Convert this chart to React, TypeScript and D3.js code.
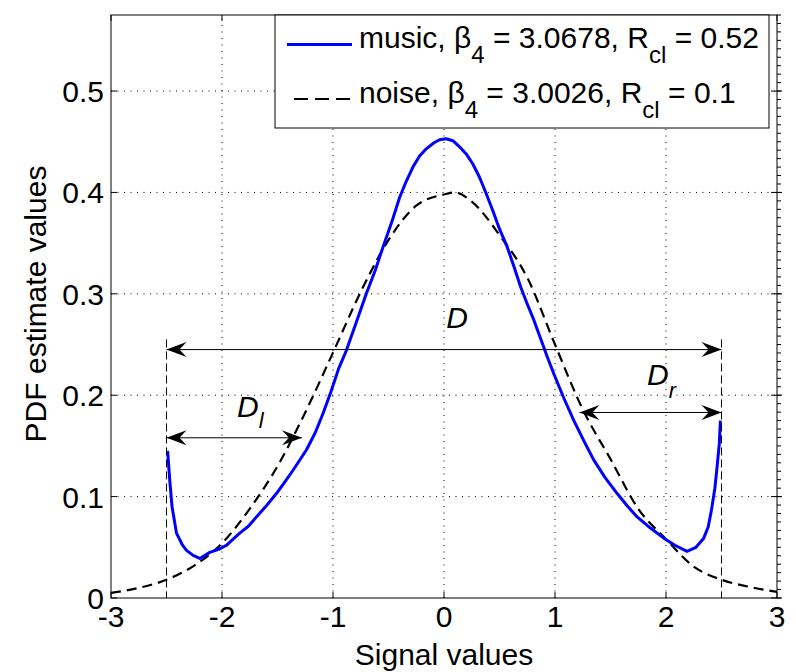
import React from "react";
import * as d3 from "d3";

// Axis ticks
const xTicks = [-3, -2, -1, 0, 1, 2, 3];
const xTickLabels = ["-3", "-2", "-1", "0", "1", "2", "3"];
const yTicks = [0, 0.1, 0.2, 0.3, 0.4, 0.5];
const yTickLabels = ["0", "0.1", "0.2", "0.3", "0.4", "0.5"];

// PDF estimate of the music signal
const musicX = [
  -2.49, -2.47, -2.45, -2.41, -2.36, -2.32, -2.26, -2.2, -2.11, -2.03, -1.96, -1.9, -1.84, -1.76,
  -1.69, -1.6, -1.51, -1.43, -1.36, -1.24, -1.16, -1.09, -1.02, -0.95, -0.88, -0.79, -0.7, -0.62,
  -0.55, -0.47, -0.4, -0.34, -0.28, -0.22, -0.16, -0.09, -0.04, 0.02, 0.08, 0.14, 0.2, 0.26, 0.32,
  0.38, 0.44, 0.5, 0.57, 0.63, 0.69, 0.75, 0.81, 0.87, 0.93, 0.99, 1.08, 1.17, 1.26, 1.35, 1.45,
  1.56, 1.65, 1.74, 1.86, 1.98, 2.08, 2.19, 2.27, 2.34, 2.38, 2.41, 2.44, 2.46, 2.48, 2.49,
];
const musicY = [
  0.145, 0.115, 0.09, 0.064, 0.053, 0.047, 0.042, 0.039, 0.045, 0.048, 0.052, 0.058, 0.064, 0.071,
  0.08, 0.091, 0.103, 0.115, 0.126, 0.146, 0.163, 0.182, 0.203, 0.226, 0.244, 0.272, 0.3, 0.323,
  0.346, 0.371, 0.395, 0.411, 0.425, 0.436, 0.443, 0.449, 0.452, 0.453, 0.451, 0.445, 0.438, 0.428,
  0.415, 0.399, 0.382, 0.364, 0.346, 0.327, 0.307, 0.29, 0.274, 0.256, 0.238, 0.221, 0.197, 0.175,
  0.155, 0.136, 0.119, 0.103, 0.091, 0.08, 0.069, 0.059, 0.052, 0.046, 0.05, 0.059, 0.07, 0.087,
  0.108, 0.129, 0.152, 0.175,
];

// PDF estimate of the noise signal
const noiseX = [
  -3, -2.75, -2.5, -2.25, -2, -1.75, -1.5, -1.25, -1, -0.75, -0.5, -0.25, 0, 0.1, 0.25, 0.5, 0.75,
  1, 1.25, 1.5, 1.75, 2, 2.25, 2.5, 2.75, 3,
];
const noiseY = [
  0.005, 0.01, 0.018, 0.032, 0.054, 0.088, 0.13, 0.183, 0.242, 0.302, 0.353, 0.387, 0.398, 0.4,
  0.391, 0.358, 0.316, 0.25, 0.186, 0.137, 0.088, 0.058, 0.031, 0.018, 0.011, 0.006,
];

// Clipping bounds and distance annotations: [from, to, level]
const clipBounds = [-2.5, 2.5];
const boundTop = 0.255;
const arrowD = [-2.5, 2.5, 0.245];
const arrowDl = [-2.5, -1.28, 0.158];
const arrowDr = [1.22, 2.5, 0.183];

const legendRows = [
  { name: "music", beta: "3.0678", rcl: "0.52" },
  { name: "noise", beta: "3.0026", rcl: "0.1" },
];

const FONT = "'Liberation Sans', Arial, Helvetica, sans-serif";

export default function App() {
  const x = d3.scaleLinear().domain([-3, 3]).range([111, 777]);
  const y = d3.scaleLinear().domain([0, 0.575]).range([598, 15]);
  const [x0, x1] = x.range();
  const [y0, y1] = y.range();

  const line = d3
    .line<[number, number]>()
    .x((d) => x(d[0]))
    .y((d) => y(d[1]));

  const musicPts = musicX.map((v, i) => [v, musicY[i]] as [number, number]);
  const noisePts = noiseX.map((v, i) => [v, noiseY[i]] as [number, number]);
  const noiseLine = d3
    .line<[number, number]>()
    .x((d) => x(d[0]))
    .y((d) => y(d[1]))
    .curve(d3.curveMonotoneX);

  const minorStep = 0.1 / 12;
  const minorTicks = d3.range(0, 0.575 + 1e-9, minorStep);

  const arrow = (a: number[], key: string) => (
    <line
      key={key}
      x1={x(a[0])}
      x2={x(a[1])}
      y1={y(a[2])}
      y2={y(a[2])}
      stroke="#000"
      strokeWidth={1}
      markerStart="url(#head)"
      markerEnd="url(#head)"
    />
  );

  return (
    <svg
      width={796}
      height={672}
      style={{ position: "absolute", left: 0, top: 0, background: "#fff" }}
      fontFamily={FONT}
    >
      <defs>
        <marker
          id="head"
          viewBox="-21 -9 22 18"
          refX={0}
          refY={0}
          markerWidth={22}
          markerHeight={18}
          markerUnits="userSpaceOnUse"
          orient="auto-start-reverse"
        >
          <path d="M0,0 L-20,-7.5 L-13,0 L-20,7.5 Z" fill="#000" />
        </marker>
      </defs>
      <rect x={0} y={0} width={796} height={672} fill="#fff" />

      {/* grid */}
      <g stroke="#000" strokeWidth={1} strokeDasharray="1,5.5">
        {xTicks.slice(1, -1).map((t) => (
          <line key={"gx" + t} x1={x(t)} x2={x(t)} y1={y0} y2={y1} />
        ))}
        {yTicks.slice(1).map((t) => (
          <line key={"gy" + t} x1={x0} x2={x1} y1={y(t)} y2={y(t)} />
        ))}
      </g>

      {/* curves */}
      <path
        d={noiseLine(noisePts) || ""}
        fill="none"
        stroke="#000"
        strokeWidth={2.2}
        strokeDasharray="10,6"
      />
      <path
        d={line(musicPts) || ""}
        fill="none"
        stroke="#0000ff"
        strokeWidth={3}
        strokeLinejoin="round"
      />

      {/* clipping bounds */}
      <g stroke="#000" strokeWidth={1} strokeDasharray="8,4">
        {clipBounds.map((b) => (
          <line key={"b" + b} x1={x(b)} x2={x(b)} y1={y(boundTop)} y2={y0} />
        ))}
      </g>

      {/* distance arrows */}
      {arrow(arrowD, "ad")}
      {arrow(arrowDl, "adl")}
      {arrow(arrowDr, "adr")}

      <g fontStyle="italic" fontSize={30} fill="#000">
        <text x={x(0.02)} y={328}>D</text>
        <text x={237} y={417}>
          D<tspan fontSize={22} dy={11}>l</tspan>
        </text>
        <text x={647} y={385}>
          D<tspan fontSize={22} dy={13}>r</tspan>
        </text>
      </g>

      {/* axes box */}
      <rect x={x0} y={y1} width={x1 - x0} height={y0 - y1} fill="none" stroke="#000" strokeWidth={1} />
      <g stroke="#000" strokeWidth={1}>
        {xTicks.map((t) => (
          <g key={"tx" + t}>
            <line x1={x(t)} x2={x(t)} y1={y0} y2={y0 - 6} />
            <line x1={x(t)} x2={x(t)} y1={y1} y2={y1 + 6} />
          </g>
        ))}
        {yTicks.map((t) => (
          <g key={"ty" + t}>
            <line x1={x0} x2={x0 + 6} y1={y(t)} y2={y(t)} />
            <line x1={x1 - 6} x2={x1 + 5} y1={y(t)} y2={y(t)} />
          </g>
        ))}
        {minorTicks.map((t, i) => (
          <line key={"m" + i} x1={x1} x2={x1 + 4} y1={y(t)} y2={y(t)} />
        ))}
      </g>

      {/* tick labels */}
      <g fontSize={30} fill="#000">
        {xTicks.map((t, i) => (
          <text key={"lx" + t} x={x(t)} y={627} textAnchor="middle">
            {xTickLabels[i]}
          </text>
        ))}
        {yTicks.map((t, i) => (
          <text key={"ly" + t} x={104} y={y(t) + 11} textAnchor="end">
            {yTickLabels[i]}
          </text>
        ))}
      </g>

      {/* axis labels */}
      <text x={(x0 + x1) / 2} y={665} textAnchor="middle" fontSize={30} fill="#000">
        Signal values
      </text>
      <text
        transform={`translate(46,304) rotate(-90)`}
        textAnchor="middle"
        fontSize={30}
        fill="#000"
      >
        PDF estimate values
      </text>

      {/* legend */}
      <g>
        <rect x={275} y={15} width={494} height={113} fill="#fff" stroke="#000" strokeWidth={1} />
        <line x1={287} x2={352} y1={44.5} y2={44.5} stroke="#0000ff" strokeWidth={3} />
        <line x1={294} x2={352} y1={99} y2={99} stroke="#000" strokeWidth={2.2} strokeDasharray="14,7" />
        {legendRows.map((r, i) => (
          <text key={r.name} x={359} y={48 + i * 55} fontSize={30} fill="#000">
            {r.name}, β<tspan fontSize={24} dy={15}>4</tspan>
            <tspan dy={-15}> = {r.beta}, R</tspan>
            <tspan fontSize={24} dy={15}>cl</tspan>
            <tspan dy={-15}> = {r.rcl}</tspan>
          </text>
        ))}
      </g>
    </svg>
  );
}
